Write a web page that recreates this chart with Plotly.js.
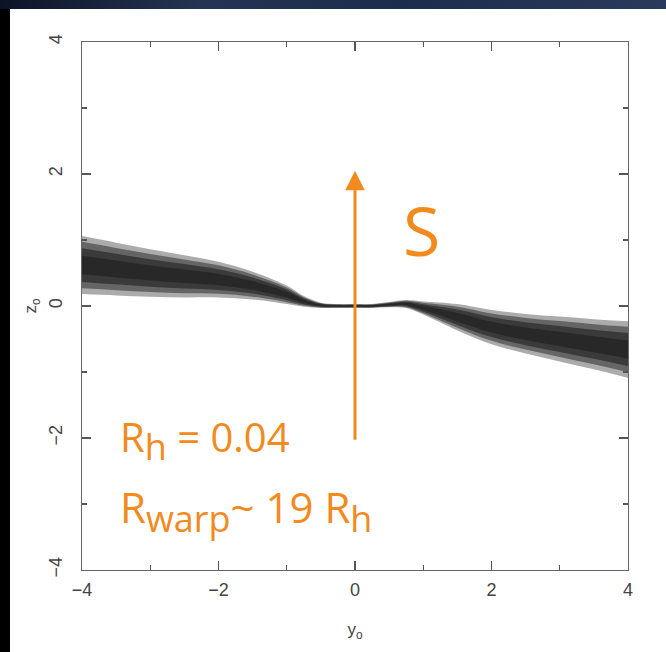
<!DOCTYPE html>
<html>
<head>
<meta charset="utf-8">
<script src="https://cdn.plot.ly/plotly-3.0.1.min.js"></script>
<style>
  html, body { margin:0; padding:0; width:666px; height:652px; overflow:hidden; background:#000; }
  #topbar { position:absolute; left:0; top:0; width:666px; height:9px;
            background:linear-gradient(90deg,#0d1428 0%,#243452 30%,#1c2c4c 60%,#2a3a5c 100%); }
  #plot { position:absolute; left:10px; top:9px; width:656px; height:643px; background:#fff; }
</style>
</head>
<body>
<div id="topbar"></div>
<div id="plot"></div>
<script>
// Positions along the disk (y_o) and the warped band
const yo        = [-4, -3.5, -3, -2.5, -2, -1.5, -1, -0.75, -0.5, -0.25, 0, 0.25, 0.5, 0.75, 1, 1.5, 2, 2.5, 3, 3.5, 4];
const zCenter   = [0.62, 0.56, 0.50, 0.45, 0.40, 0.31, 0.17, 0.07, 0.01, 0.0, 0.0, 0.0, 0.02, 0.03, -0.03, -0.17, -0.32, -0.42, -0.50, -0.58, -0.66];
const zHalfWidth= [0.44, 0.40, 0.36, 0.32, 0.27, 0.21, 0.14, 0.08, 0.04, 0.03, 0.03, 0.03, 0.04, 0.06, 0.10, 0.20, 0.26, 0.30, 0.34, 0.38, 0.43];

// Arrow and labels
const arrowY = 0, arrowFrom = -2.05, arrowTo = 2.05;
const labelS = "S";
const labelRh = "R<sub><span style=\"font-size:36px\">h</span></sub> = 0.04";
const labelRwarp = "R<sub><span style=\"font-size:36px\">warp</span></sub>~ 19 R<sub><span style=\"font-size:36px\">h</span></sub>";

const xTicks = [-4, -2, 0, 2, 4];
const yTicks = [-4, -2, 0, 2, 4];

const orange = "#f28a1e";

// Layered bands (outer light -> inner dark) to mimic the particle density
const layers = [
  {f: 1.00, a: 0.35},
  {f: 0.80, a: 0.45},
  {f: 0.58, a: 0.50},
  {f: 0.32, a: 0.40}
];
const traces = [];
layers.forEach(L => {
  const lo = zCenter.map((c, i) => c - L.f * zHalfWidth[i]);
  const hi = zCenter.map((c, i) => c + L.f * zHalfWidth[i]);
  traces.push({x: yo, y: lo, mode: 'lines', line: {width: 0, shape: 'spline', color: 'rgba(0,0,0,0)'},
               hoverinfo: 'skip', showlegend: false, type: 'scatter'});
  traces.push({x: yo, y: hi, mode: 'lines', line: {width: 0, shape: 'spline', color: 'rgba(0,0,0,0)'},
               fill: 'tonexty', fillcolor: 'rgba(15,15,15,' + L.a + ')',
               hoverinfo: 'skip', showlegend: false, type: 'scatter'});
});

const tickFont = {family: 'Liberation Sans, Arial, sans-serif', size: 18, color: '#444'};
const axisCommon = {
  range: [-4, 4],
  showgrid: false, zeroline: false,
  showline: true, linecolor: '#666', linewidth: 1.3, mirror: 'allticks',
  ticks: 'inside', ticklen: 9, tickwidth: 1.3, tickcolor: '#555',
  minor: {dtick: 1, ticks: 'inside', ticklen: 5, tickwidth: 1.2, tickcolor: '#555'},
  tickfont: tickFont,
  fixedrange: true
};

const layout = {
  width: 656, height: 643,
  margin: {l: 72, r: 38, t: 33, b: 82},
  paper_bgcolor: '#ffffff', plot_bgcolor: '#ffffff',
  showlegend: false,
  xaxis: Object.assign({}, axisCommon, {
    tickvals: xTicks, ticktext: xTicks.map(v => v < 0 ? '\u2212' + Math.abs(v) : String(v)),
    ticklabelstandoff: 3,
    title: {text: 'y<sub>o</sub>', font: {family: 'Liberation Sans, Arial, sans-serif', size: 17, color: '#444'}, standoff: 24}
  }),
  yaxis: Object.assign({}, axisCommon, {
    tickvals: yTicks, ticktext: yTicks.map(v => v < 0 ? '\u2212' + Math.abs(v) : String(v)),
    tickangle: -90, ticklabelstandoff: 12,
    title: {text: 'z<sub>o</sub>', font: {family: 'Liberation Sans, Arial, sans-serif', size: 17, color: '#444'}, standoff: 4}
  }),
  annotations: [
    {x: arrowY, y: arrowTo, ax: arrowY, ay: arrowFrom, xref: 'x', yref: 'y', axref: 'x', ayref: 'y',
     showarrow: true, arrowhead: 2, arrowsize: 1.3, arrowwidth: 3, arrowcolor: orange, text: ''},
    {x: 0.98, y: 1.16, xref: 'x', yref: 'y', text: labelS, showarrow: false,
     font: {family: 'Open Sans, sans-serif', size: 68, color: orange}},
    {x: -3.47, y: -2.03, xref: 'x', yref: 'y', xanchor: 'left', text: labelRh, showarrow: false,
     font: {family: 'Open Sans, sans-serif', size: 40, color: orange}},
    {x: -3.47, y: -3.1, xref: 'x', yref: 'y', xanchor: 'left', text: labelRwarp, showarrow: false,
     font: {family: 'Open Sans, sans-serif', size: 42, color: orange}}
  ]
};

Plotly.newPlot('plot', traces, layout, {staticPlot: true, displayModeBar: false});
</script>
</body>
</html>
